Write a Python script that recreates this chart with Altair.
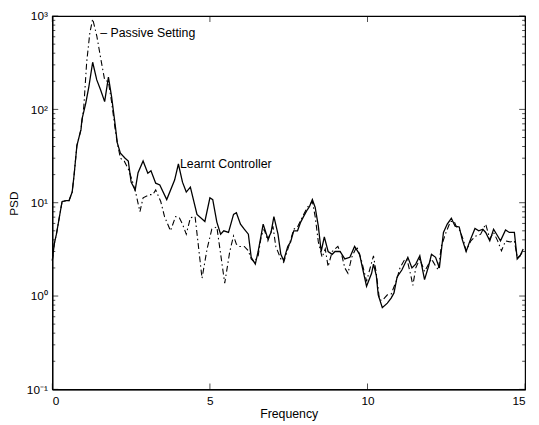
import altair as alt
import pandas as pd

learnt_freq = [0, 0.06, 0.13, 0.22, 0.31, 0.44, 0.53, 0.63, 0.69, 0.78,
               0.91, 0.94, 1.06, 1.16, 1.28, 1.41, 1.53, 1.66, 1.78, 1.88,
               2.0, 2.06, 2.16, 2.31, 2.41, 2.5, 2.63, 2.72, 2.88, 3.03,
               3.13, 3.28, 3.41, 3.63, 3.88, 4.0, 4.13, 4.25, 4.38, 4.59,
               4.84, 5.0, 5.09, 5.22, 5.34, 5.44, 5.59, 5.75, 5.84, 5.97,
               6.09, 6.22, 6.31, 6.44, 6.53, 6.69, 6.84, 6.94, 7.03, 7.16,
               7.25, 7.34, 7.47, 7.56, 7.66, 7.78, 7.88, 7.97, 8.09, 8.16,
               8.25, 8.34, 8.44, 8.53, 8.63, 8.75, 8.88, 8.97, 9.13, 9.28,
               9.44, 9.59, 9.75, 9.84, 9.97, 10.13, 10.19, 10.28, 10.34, 10.47,
               10.63, 10.75, 10.84, 10.94, 11.09, 11.28, 11.41, 11.53, 11.66, 11.81,
               11.94, 12.03, 12.16, 12.28, 12.41, 12.53, 12.66, 12.78, 12.91, 13.0,
               13.13, 13.25, 13.41, 13.53, 13.66, 13.75, 13.88, 14.0, 14.13, 14.22,
               14.38, 14.5, 14.66, 14.75, 14.84, 14.94]
learnt_psd = [2.4, 3.6, 4.6, 6.9, 10.3, 10.5, 10.5, 13, 19.7, 41,
              61, 78, 116, 175, 320, 207, 162, 121, 222, 137,
              66, 44, 34, 30, 28, 16.6, 13.7, 21, 28, 20.7,
              22, 16.2, 15.5, 10.8, 17.5, 26, 16.6, 13, 14.7, 7.5,
              6.3, 11.3, 10.8, 6.2, 4.6, 5.0, 4.8, 7.5, 7.8, 5.9,
              5.2, 4.6, 2.6, 2.2, 3.0, 5.9, 4.1, 4.8, 7.1, 4.6,
              2.8, 2.4, 3.4, 3.8, 5.0, 5.0, 6.2, 7.1, 8.4, 9.1,
              10.8, 8.9, 5.6, 3.0, 4.3, 3.0, 2.8, 3.0, 3.0, 2.5,
              2.6, 3.4, 2.8, 2.0, 1.27, 1.75, 2.2, 1.66, 1.03, 0.75,
              0.84, 0.95, 1.08, 1.6, 1.9, 2.6, 2.0, 2.2, 2.7, 1.5,
              2.1, 2.8, 2.6, 2.0, 4.8, 5.9, 6.8, 5.6, 5.5, 4.1,
              3.0, 3.9, 5.3, 5.0, 5.2, 4.8, 3.9, 5.2, 4.4, 3.9,
              5.1, 4.8, 4.8, 2.5, 2.7, 3.2]

passive_freq = [0, 0.06, 0.13, 0.22, 0.31, 0.44, 0.53, 0.63, 0.69, 0.78,
                0.91, 1.0, 1.09, 1.19, 1.28, 1.41, 1.53, 1.66, 1.78, 1.88,
                2.0, 2.06, 2.16, 2.28, 2.41, 2.53, 2.66, 2.78, 2.88, 3.09,
                3.19, 3.28, 3.44, 3.56, 3.75, 3.91, 4.03, 4.13, 4.25, 4.38,
                4.53, 4.75, 4.91, 5.06, 5.22, 5.47, 5.63, 5.75, 5.84, 5.94,
                6.09, 6.22, 6.31, 6.41, 6.53, 6.63, 6.72, 6.84, 7.0, 7.09,
                7.25, 7.34, 7.5, 7.66, 7.78, 7.94, 8.09, 8.25, 8.34, 8.44,
                8.56, 8.66, 8.75, 8.88, 9.06, 9.19, 9.28, 9.38, 9.5, 9.66,
                9.81, 9.97, 10.19, 10.28, 10.38, 10.47, 10.63, 10.75, 10.91, 11.03,
                11.16, 11.25, 11.38, 11.44, 11.53, 11.66, 11.81, 11.94, 12.03, 12.16,
                12.25, 12.34, 12.47, 12.63, 12.75, 12.81, 12.94, 13.06, 13.13, 13.28,
                13.44, 13.59, 13.75, 13.88, 14.0, 14.13, 14.25, 14.38, 14.53, 14.66,
                14.75, 14.84, 14.94]
passive_psd = [2.4, 3.6, 4.6, 6.9, 10.3, 10.5, 10.5, 13, 19.7, 41,
               61, 108, 320, 660, 930, 615, 360, 207, 197, 121,
               59, 44, 30, 28, 23, 17.5, 12.2, 8.0, 11.3, 12.2,
               12.2, 13.7, 10.3, 7.1, 5.0, 7.1, 6.9, 5.9, 4.6, 6.9,
               7.1, 1.55, 3.2, 5.2, 5.5, 1.37, 3.0, 4.4, 3.6, 3.4,
               3.4, 3.05, 2.5, 2.3, 2.7, 4.4, 5.2, 3.9, 5.6, 3.4,
               2.5, 2.3, 3.4, 5.2, 5.5, 7.1, 8.9, 10.3, 7.1, 3.8,
               2.6, 3.2, 2.07, 3.0, 3.4, 2.7, 2.0, 1.75, 2.6, 3.4,
               2.4, 1.44, 2.7, 1.75, 0.91, 0.9, 1.03, 1.05, 1.44, 2.0,
               2.4, 2.5, 1.63, 1.3, 2.0, 2.5, 1.83, 2.2, 2.5, 2.1,
               1.9, 3.4, 4.6, 6.3, 6.3, 5.6, 5.0, 3.8, 3.05, 3.9,
               4.4, 4.6, 5.9, 4.1, 4.8, 3.9, 3.05, 3.9, 3.8, 3.9,
               2.6, 2.7, 3.05]

label_text = ["\u2013 Passive Setting", "Learnt Controller"]
label_freq = [1.52, 4.05]
label_psd = [650, 26]

x_major = [0, 5, 10, 15]
y_major = [0.1, 1, 10, 100, 1000]
y_minor = [m * 10 ** k for k in range(-1, 3) for m in range(2, 10)]

FONT = "Liberation Sans"

learnt = pd.DataFrame({"f": learnt_freq, "psd": learnt_psd})
passive = pd.DataFrame({"f": passive_freq, "psd": passive_psd})
labels = pd.DataFrame({"f": label_freq, "psd": label_psd, "t": label_text})
ymaj = pd.DataFrame({"psd": y_major})
ymin = pd.DataFrame({"psd": y_minor})
xmaj = pd.DataFrame({"f": x_major})

xscale = alt.Scale(domain=[0, 15], nice=False, zero=False)
yscale = alt.Scale(type="log", domain=[0.1, 1000], nice=False)

label_expr = ("datum.value < 0.5 ? '10\u207b\u00b9' : datum.value < 5 ? '10\u2070' : "
              "datum.value < 50 ? '10\u00b9' : datum.value < 500 ? '10\u00b2' : '10\u00b3'")

xaxis = alt.Axis(values=x_major, title="Frequency", ticks=False, grid=False,
                 labelPadding=6, domainColor="black",
                 labelColor="black", titleColor="black", labelFontSize=12,
                 titleFontSize=12.5, titleFontWeight="normal", labelFont=FONT,
                 titleFont=FONT, domainWidth=1.2, titleY=29,
                 titleBaseline="alphabetic")
yaxis = alt.Axis(values=y_major, title="PSD", ticks=False, grid=False,
                 labelExpr=label_expr, labelPadding=5, domainColor="black",
                 labelColor="black", titleColor="black", labelFontSize=12,
                 titleFontSize=12, titleFontWeight="normal", labelFont=FONT,
                 titleFont=FONT, domainWidth=1.2, titleX=-35, titleY=190,
                 titleAngle=270, titleBaseline="alphabetic", titleAlign="center")

X = alt.X("f:Q", scale=xscale, axis=xaxis)
Y = alt.Y("psd:Q", scale=yscale, axis=yaxis)

solid = alt.Chart(learnt).mark_line(color="black", strokeWidth=1.3).encode(x=X, y=Y)
dashdot = alt.Chart(passive).mark_line(color="black", strokeWidth=1.1,
                                       strokeDash=[6, 3, 1.5, 3]).encode(x=X, y=Y)
text = alt.Chart(labels).mark_text(align="left", baseline="middle", font=FONT,
                                   fontSize=12.5, color="black").encode(x=X, y=Y, text="t:N")

tick_l_maj = alt.Chart(ymaj).mark_tick(orient="horizontal", size=6, thickness=1,
                                       color="black").encode(y=Y, x=alt.value(3))
tick_r_maj = alt.Chart(ymaj).mark_tick(orient="horizontal", size=6, thickness=1,
                                       color="black").encode(y=Y, x=alt.value(477))
tick_l_min = alt.Chart(ymin).mark_tick(orient="horizontal", size=3, thickness=1,
                                       color="black").encode(y=Y, x=alt.value(1.5))
tick_r_min = alt.Chart(ymin).mark_tick(orient="horizontal", size=3, thickness=1,
                                       color="black").encode(y=Y, x=alt.value(478.5))
tick_b = alt.Chart(xmaj).mark_tick(orient="vertical", size=6, thickness=1,
                                   color="black").encode(x=X, y=alt.value(376))
tick_t = alt.Chart(xmaj).mark_tick(orient="vertical", size=6, thickness=1,
                                   color="black").encode(x=X, y=alt.value(3))

chart = alt.layer(
    solid, dashdot, text, tick_l_maj, tick_r_maj, tick_l_min, tick_r_min, tick_b, tick_t
).properties(
    width=480, height=379,
    background="white",
    padding={"left": 45, "top": 5, "right": 6, "bottom": 33},
    autosize=alt.AutoSizeParams(type="none"),
).configure_view(stroke="black", strokeWidth=1.2)

chart.save("out.html", embed_options={"renderer": "svg", "actions": False})
